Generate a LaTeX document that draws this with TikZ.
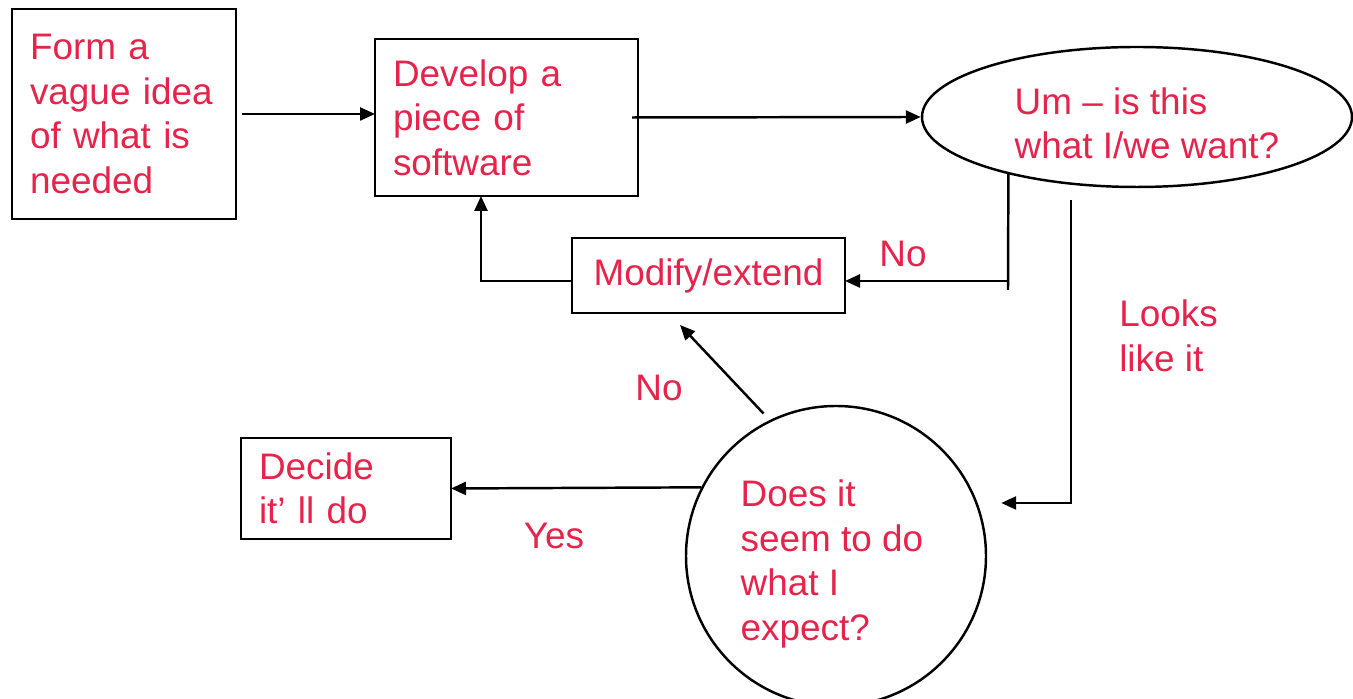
\documentclass[tikz,border=0pt]{standalone}
\usepackage{fontspec}
\setmainfont{Liberation Sans}
\definecolor{labelred}{RGB}{230,35,75}
\usetikzlibrary{positioning,shapes,arrows.meta}

\begin{document}
\begin{tikzpicture}[
    every node/.style={text=labelred, font=\fontsize{10.5}{12.7}\selectfont},
    box/.style={draw=black, line width=0.8pt, inner xsep=0.18cm, inner ysep=0pt, outer sep=0pt, align=left},
    conn/.style={line width=0.7pt, -{Triangle[length=0.15cm,width=0.13cm]}}
]
    \useasboundingbox (0,0) rectangle (13.53,6.99);

    % Boxes
    \node[box, text width=1.88cm, minimum height=2.10cm] (vague) at (1.24,5.85) {Form a\\ vague idea\\ of what is\\ needed};
    \node[box, line width=0.6pt, text width=2.27cm, minimum height=1.57cm] (develop) at (5.065,5.815) {Develop a\\ piece of\\ software};
    \node[box, align=center, minimum width=2.73cm, minimum height=0.75cm] (modify) at (7.085,4.235) {Modify/extend};
    \node[box, text width=1.74cm, minimum height=1.01cm] (decide) at (3.46,2.105) {Decide\\ it' ll do};

    % Ellipse and circle
    \node[draw=black, ellipse, line width=0.7pt, minimum width=4.30cm, minimum height=1.40cm, inner sep=0pt] (check) at (11.37,5.82) {};
    \node[align=left] (checktext) at ([xshift=0.10cm,yshift=-0.065cm]check.center) {Um -- is this\\ what I/we want?};
    \node[draw=black, circle, line width=0.7pt, minimum size=3.00cm, inner sep=0pt] (does) at (8.36,1.43) {};
    \node[align=left] (doestext) at ([xshift=-0.04cm,yshift=-0.08cm]does.center) {Does it\\ seem to do\\ what I\\ expect?};

    % Main flow
    \draw[conn] ([xshift=0.06cm]vague.east) -- (vague.east -| develop.west);
    \draw[conn] ([xshift=-0.06cm]develop.east) -- (check.west);

    % No: back round the loop
    \coordinate (nocorner) at (10.08,4.18);
    \coordinate (backcorner) at (4.81,4.18);
    \draw[line width=0.7pt] (check.204) -- ([yshift=-0.09cm]nocorner);
    \draw[conn] (nocorner) -- (nocorner -| modify.east);
    \draw[conn] (modify.west |- backcorner) -- (backcorner) -- (backcorner |- develop.south);

    % Looks like it
    \coordinate (looktop) at (10.71,4.99);
    \coordinate (lookcorner) at (10.71,1.96);
    \draw[conn] (looktop) -- (lookcorner) -- ([xshift=0.14cm]lookcorner -| does.east);

    % Out of the circle
    \draw[conn, shorten <=0.09cm] (does.116) -- ([xshift=-0.285cm,yshift=-0.12cm]modify.south);
    \draw[conn] (does.153) -- (decide.east);

    % Labels
    \foreach \x/\y/\name/\txt in {9.03/4.45/noup/No, 6.59/3.11/nodiag/No, 5.54/1.63/yes/Yes} {
        \node (\name) at (\x,\y) {\txt};
    }
    \node[align=left] (looks) at (11.685,3.63) {Looks\\ like it};
\end{tikzpicture}
\end{document}
